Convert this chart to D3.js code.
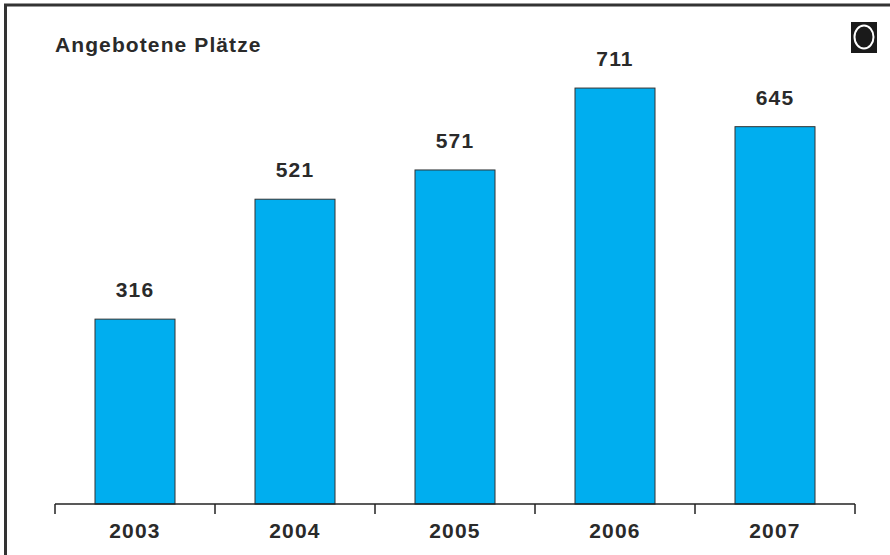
<!DOCTYPE html>
<html>
<head>
<meta charset="utf-8">
<script src="https://cdn.jsdelivr.net/npm/d3@7"></script>
<style>
  body { margin: 0; background: #fff; }
  text { font-family: "Liberation Sans", Arial, sans-serif; font-weight: bold; fill: #2a2a2a; }
</style>
</head>
<body>
<div id="plot"></div>
<script>
// values
const years = ["2003", "2004", "2005", "2006", "2007"];
const places = [316, 521, 571, 711, 645];
const title = "Angebotene Plätze";

const data = years.map((y, i) => ({year: y, value: places[i]}));

const W = 890, H = 555;
const axisY = 504;

const svg = d3.select("#plot")
  .append("svg")
  .attr("width", W)
  .attr("height", H);

// frame (runs off the right and bottom edge like the original)
svg.append("path")
  .attr("d", `M5.5,${H + 5} L5.5,5 L${W + 5},5`)
  .attr("fill", "none")
  .attr("stroke", "#333")
  .attr("stroke-width", 3);

const x = d3.scaleBand()
  .domain(years)
  .range([55, 855])
  .paddingInner(0.5)
  .paddingOuter(0.25);

const y = d3.scaleLinear()
  .domain([0, 800])
  .range([axisY, 36]);

// bars
svg.selectAll("rect.bar")
  .data(data)
  .join("rect")
  .attr("class", "bar")
  .attr("x", d => x(d.year))
  .attr("y", d => y(d.value))
  .attr("width", x.bandwidth())
  .attr("height", d => y(0) - y(d.value))
  .attr("fill", "#00aeef")
  .attr("stroke", "#333")
  .attr("stroke-width", 1);

// value labels
svg.selectAll("text.val")
  .data(data)
  .join("text")
  .attr("class", "val")
  .attr("x", d => x(d.year) + x.bandwidth() / 2)
  .attr("y", d => y(d.value) - 22)
  .attr("text-anchor", "middle")
  .attr("font-size", 21)
  .attr("letter-spacing", 1.2)
  .text(d => d.value);

// x axis: baseline with ticks on the category boundaries
const half = x.step() * x.paddingInner() / 2;
const bounds = years.map(d => x(d) - half).concat([x.range()[1]]);

svg.append("line")
  .attr("x1", x.range()[0]).attr("x2", x.range()[1])
  .attr("y1", axisY).attr("y2", axisY)
  .attr("stroke", "#222").attr("stroke-width", 1.5);

svg.selectAll("line.tick")
  .data(bounds)
  .join("line")
  .attr("class", "tick")
  .attr("x1", d => d).attr("x2", d => d)
  .attr("y1", axisY).attr("y2", axisY + 10)
  .attr("stroke", "#222").attr("stroke-width", 1.5);

svg.selectAll("text.year")
  .data(years)
  .join("text")
  .attr("class", "year")
  .attr("x", d => x(d) + x.bandwidth() / 2)
  .attr("y", 538)
  .attr("text-anchor", "middle")
  .attr("font-size", 21)
  .attr("letter-spacing", 1.2)
  .text(d => d);

// title
svg.append("text")
  .attr("x", 55)
  .attr("y", 52)
  .attr("font-size", 21)
  .attr("letter-spacing", 1.1)
  .text(title);

// small logo mark top right
const logo = svg.append("g").attr("transform", "translate(864,37)");
logo.append("rect")
  .attr("x", -13).attr("y", -15)
  .attr("width", 26).attr("height", 31)
  .attr("fill", "#1a1a1a");
logo.append("ellipse")
  .attr("rx", 9.5).attr("ry", 11.5)
  .attr("fill", "none")
  .attr("stroke", "#fff")
  .attr("stroke-width", 2);
</script>
</body>
</html>
